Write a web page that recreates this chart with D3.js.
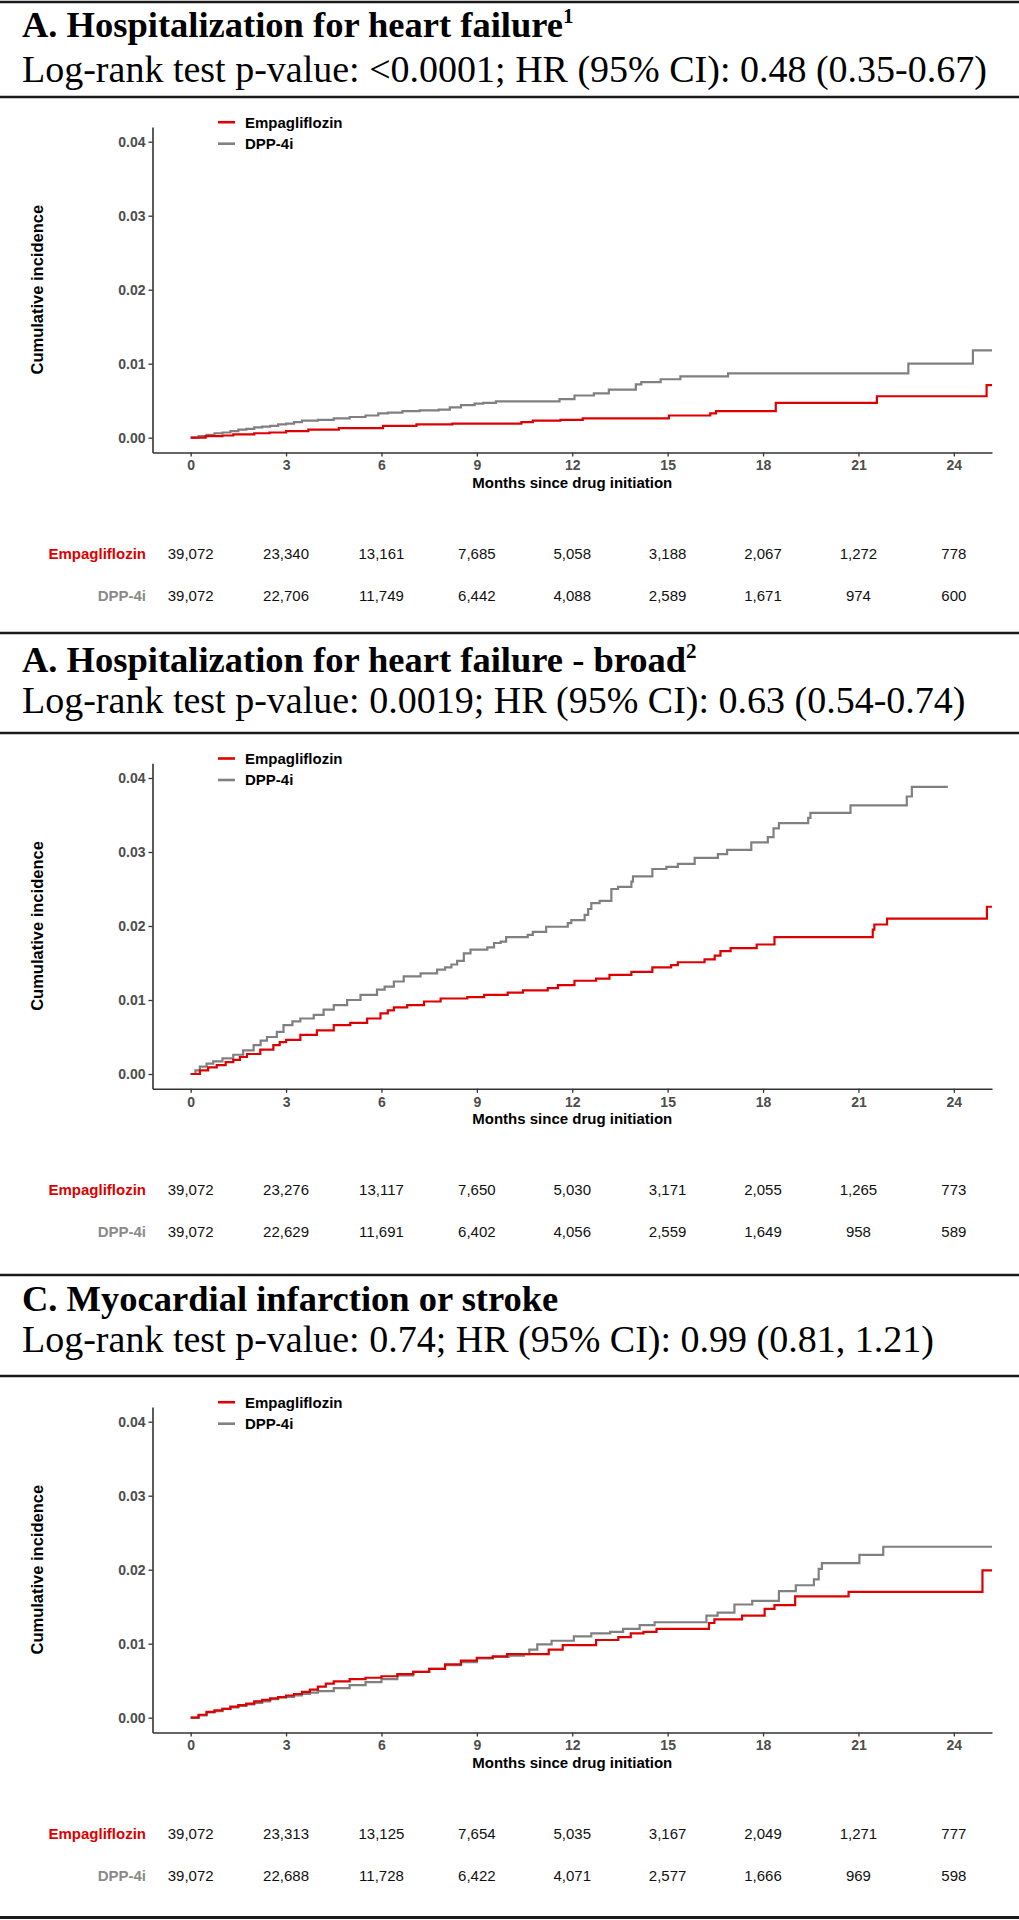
<!DOCTYPE html>
<html>
<head>
<meta charset="utf-8">
<script src="https://cdn.jsdelivr.net/npm/d3@7"></script>
<style>
  html, body { margin: 0; padding: 0; background: #fff; }
  svg { display: block; }
</style>
</head>
<body>
<svg id="chart" width="1019" height="1920"></svg>
<script>
// ---------------- DATA ----------------
const seriesNames = ["Empagliflozin", "DPP-4i"];
const xTicks = [0, 3, 6, 9, 12, 15, 18, 21, 24];
const yTicks = [0.00, 0.01, 0.02, 0.03, 0.04];
const riskMonths = [0, 3, 6, 9, 12, 15, 18, 21, 24];

const titles = [
  "A. Hospitalization for heart failure",
  "A. Hospitalization for heart failure - broad",
  "C. Myocardial infarction or stroke"
];
const titleSup = ["1", "2", ""];
const subtitles = [
  "Log-rank test p-value: <0.0001; HR (95% CI): 0.48 (0.35-0.67)",
  "Log-rank test p-value: 0.0019; HR (95% CI): 0.63 (0.54-0.74)",
  "Log-rank test p-value: 0.74; HR (95% CI): 0.99 (0.81, 1.21)"
];

// [month, cumulative incidence]
const hfEmpa = [[0,0],[0.47,0.0002],[1.0,0.0003],[1.34,0.00045],[2.0,0.0006],[2.48,0.0007],[3.0,0.0009],[3.7,0.0011],[4.66,0.0013],[6.05,0.0016],[7.1,0.0018],[8.23,0.0019],[10.4,0.0021],[10.76,0.0023],[11.63,0.0024],[12.33,0.0026],[15.04,0.003],[16.34,0.0033],[16.52,0.0036],[18.4,0.0047],[21.58,0.0056],[25.03,0.0071],[25.2,0.0071]];
const hfDpp = [[0,0],[0.25,0.0002],[0.5,0.0004],[0.75,0.0006],[1,0.0007],[1.25,0.0009],[1.5,0.0011],[1.75,0.0012],[2,0.0014],[2.25,0.0015],[2.5,0.0016],[2.75,0.0018],[3,0.0019],[3.25,0.0021],[3.5,0.0023],[4,0.0024],[4.5,0.0026],[5,0.0028],[5.5,0.003],[5.9,0.0033],[6.2,0.0034],[6.66,0.0036],[7.2,0.0037],[7.8,0.0038],[8.15,0.0041],[8.5,0.0044],[8.93,0.0046],[9.2,0.0047],[9.6,0.0049],[11.6,0.0052],[12.07,0.0057],[12.68,0.006],[13.15,0.0065],[14.0,0.0072],[14.17,0.0075],[14.78,0.0079],[15.4,0.0083],[16.9,0.0087],[22.57,0.01],[24.6,0.0118],[25.2,0.0118]];

const hfBroadEmpa = [[0,0],[0.29,0.0005],[0.55,0.0009],[0.82,0.0012],[1.1,0.0016],[1.34,0.0019],[1.55,0.0023],[1.77,0.0027],[2.19,0.0033],[2.6,0.0039],[2.8,0.0043],[3.0,0.0046],[3.45,0.0053],[3.97,0.0059],[4.5,0.0066],[5.02,0.0069],[5.55,0.0075],[5.97,0.0082],[6.2,0.0086],[6.39,0.009],[6.81,0.0093],[7.34,0.0098],[7.86,0.0102],[8.7,0.0104],[9.23,0.0107],[9.97,0.011],[10.45,0.0113],[11.23,0.0116],[11.55,0.012],[12.07,0.0126],[12.75,0.0129],[13.17,0.0134],[13.86,0.0138],[14.52,0.0144],[15.11,0.0147],[15.32,0.0151],[16.16,0.0155],[16.48,0.016],[16.66,0.0166],[16.98,0.017],[17.8,0.0175],[18.36,0.0185],[21.45,0.0195],[21.5,0.0202],[21.9,0.021],[25.04,0.0226],[25.2,0.0226]];
const hfBroadDpp = [[0,0],[0.15,0.0005],[0.29,0.001],[0.5,0.0014],[0.71,0.0017],[1.0,0.0021],[1.34,0.0026],[1.65,0.0032],[1.98,0.0039],[2.2,0.0045],[2.4,0.005],[2.71,0.0057],[2.92,0.0066],[3.2,0.0071],[3.45,0.0075],[3.87,0.008],[4.18,0.0087],[4.5,0.0093],[4.92,0.01],[5.34,0.0107],[5.86,0.0114],[6.1,0.0118],[6.39,0.0125],[6.7,0.0132],[7.23,0.0136],[7.75,0.0141],[8.0,0.0144],[8.2,0.0148],[8.38,0.0153],[8.59,0.0163],[8.8,0.0168],[9.33,0.0171],[9.54,0.0177],[9.75,0.0179],[9.92,0.0185],[10.6,0.0188],[10.76,0.0192],[11.18,0.0199],[11.86,0.0204],[11.97,0.0208],[12.39,0.0215],[12.5,0.0223],[12.6,0.0231],[12.86,0.0234],[13.23,0.025],[13.44,0.0253],[13.86,0.026],[13.91,0.0267],[14.52,0.0277],[14.96,0.028],[15.32,0.0284],[15.85,0.0292],[16.58,0.0297],[16.87,0.0303],[17.63,0.0313],[18.15,0.032],[18.33,0.0332],[18.5,0.0339],[19.42,0.0346],[19.49,0.0353],[20.75,0.0363],[22.52,0.0375],[22.68,0.0388],[23.81,0.0388]];

const miEmpa = [[0,0],[0.25,0.0004],[0.5,0.0008],[0.75,0.001],[1,0.0012],[1.25,0.0015],[1.5,0.0017],[1.75,0.0019],[2,0.0022],[2.25,0.0024],[2.5,0.0026],[2.75,0.0028],[3,0.003],[3.25,0.0032],[3.5,0.0035],[3.75,0.0038],[4,0.0042],[4.25,0.0046],[4.5,0.0049],[5,0.0052],[5.5,0.0054],[6,0.0056],[6.5,0.0059],[7,0.0062],[7.5,0.0066],[8,0.0072],[8.5,0.0077],[9,0.0081],[9.5,0.0083],[9.95,0.0086],[11.26,0.0092],[11.7,0.0098],[12.75,0.0105],[13.45,0.0109],[13.84,0.0114],[14.24,0.0116],[14.65,0.012],[16.3,0.0128],[16.47,0.0133],[17.34,0.0138],[18.05,0.0147],[18.36,0.0152],[19.01,0.0164],[20.69,0.017],[24.9,0.0199],[25.2,0.0199]];
const miDpp = [[0,0],[0.25,0.0003],[0.5,0.0007],[0.75,0.0009],[1,0.0012],[1.25,0.0014],[1.5,0.0016],[1.75,0.0018],[2,0.002],[2.25,0.0022],[2.5,0.0025],[2.75,0.0027],[3,0.0028],[3.25,0.003],[3.5,0.0032],[3.75,0.0034],[4,0.0036],[4.5,0.004],[5,0.0044],[5.5,0.0048],[6,0.0052],[6.5,0.0057],[7,0.0062],[7.5,0.0066],[8,0.0071],[8.5,0.0075],[9,0.008],[9.5,0.0082],[10,0.0084],[10.48,0.0086],[10.65,0.0092],[10.9,0.0099],[11.35,0.0104],[12.05,0.011],[12.6,0.0114],[13.19,0.0116],[13.6,0.012],[14.12,0.0125],[14.59,0.0129],[16.22,0.0138],[16.57,0.0142],[17.1,0.0153],[17.66,0.0158],[18.5,0.0171],[19.03,0.0179],[19.6,0.0187],[19.75,0.0201],[19.85,0.0209],[21.03,0.022],[21.78,0.0231],[25.2,0.0231]];

const hfRiskEmpa = [39072, 23340, 13161, 7685, 5058, 3188, 2067, 1272, 778];
const hfRiskDpp  = [39072, 22706, 11749, 6442, 4088, 2589, 1671, 974, 600];
const hfBroadRiskEmpa = [39072, 23276, 13117, 7650, 5030, 3171, 2055, 1265, 773];
const hfBroadRiskDpp  = [39072, 22629, 11691, 6402, 4056, 2559, 1649, 958, 589];
const miRiskEmpa = [39072, 23313, 13125, 7654, 5035, 3167, 2049, 1271, 777];
const miRiskDpp  = [39072, 22688, 11728, 6422, 4071, 2577, 1666, 969, 598];

// ---------------- LAYOUT ----------------
const colors = { empa: "#dd0000", dpp: "#808080" };
const sans = "'Liberation Sans', Arial, sans-serif";
const serif = "'Liberation Serif', 'Times New Roman', serif";

const panels = [
  { y0: 437.7, top: 2,    titleY: 37,   subY: 82,   hline: 97,   empa: hfEmpa, dpp: hfDpp, riskE: hfRiskEmpa, riskD: hfRiskDpp },
  { y0: 1074,  top: 633,  titleY: 672,  subY: 713,  hline: 733,  empa: hfBroadEmpa, dpp: hfBroadDpp, riskE: hfBroadRiskEmpa, riskD: hfBroadRiskDpp },
  { y0: 1717.7,top: 1275, titleY: 1311, subY: 1352, hline: 1376, empa: miEmpa, dpp: miDpp, riskE: miRiskEmpa, riskD: miRiskDpp }
];

const svg = d3.select("#chart");
const fmt = d3.format(",");
const x = d3.scaleLinear().domain([-1.2, 25.2]).range([152.5, 992]);
const pxPerUnit = 7400;

function hline(y, w) {
  svg.append("line").attr("x1", 0).attr("x2", 1019).attr("y1", y).attr("y2", y)
    .attr("stroke", "#1a1a1a").attr("stroke-width", w || 2.5);
}

panels.forEach((p, i) => {
  // header
  hline(p.top);
  const t = svg.append("text").attr("x", 22).attr("y", p.titleY)
    .attr("font-family", serif).attr("font-weight", "bold").attr("font-size", 36.5)
    .attr("fill", "#000").text(titles[i]);
  if (titleSup[i]) {
    t.append("tspan").attr("font-size", 21).attr("dy", -14).text(titleSup[i]);
  }
  svg.append("text").attr("x", 22).attr("y", p.subY)
    .attr("font-family", serif).attr("font-size", 38).attr("fill", "#000")
    .text(subtitles[i]);
  hline(p.hline);

  const y = d3.scaleLinear().domain([-0.002, 0.042])
    .range([p.y0 + 0.002 * pxPerUnit, p.y0 - 0.042 * pxPerUnit]);

  const g = svg.append("g");

  // axes
  const yAxis = d3.axisLeft(y).tickValues(yTicks).tickFormat(d3.format(".2f")).tickSize(4).tickSizeOuter(0).tickPadding(3);
  const xAxis = d3.axisBottom(x).tickValues(xTicks).tickSize(4).tickSizeOuter(0).tickPadding(4);
  const ya = g.append("g").attr("transform", `translate(${x.range()[0]},0)`).call(yAxis);
  const xa = g.append("g").attr("transform", `translate(0,${y.range()[0]})`).call(xAxis);
  [ya, xa].forEach(a => {
    a.select(".domain").attr("stroke", "#333").attr("stroke-width", 1.6);
    a.selectAll(".tick line").attr("stroke", "#333").attr("stroke-width", 1.3);
    a.selectAll(".tick text").attr("font-family", sans).attr("font-weight", "bold")
      .attr("font-size", 14).attr("fill", "#4d4d4d");
  });

  // axis titles
  g.append("text").attr("transform", `translate(43,${(y.range()[0] + y.range()[1]) / 2}) rotate(-90)`)
    .attr("text-anchor", "middle").attr("font-family", sans).attr("font-weight", "bold")
    .attr("font-size", 16.5).attr("fill", "#000").text("Cumulative incidence");
  g.append("text").attr("x", x(12)).attr("y", p.y0 + 50)
    .attr("text-anchor", "middle").attr("font-family", sans).attr("font-weight", "bold")
    .attr("font-size", 15).attr("fill", "#000").text("Months since drug initiation");

  // curves
  const line = d3.line().x(d => x(d[0])).y(d => y(d[1])).curve(d3.curveStepAfter);
  g.append("path").datum(p.dpp).attr("d", line).attr("fill", "none")
    .attr("stroke", colors.dpp).attr("stroke-width", 2.2);
  g.append("path").datum(p.empa).attr("d", line).attr("fill", "none")
    .attr("stroke", colors.empa).attr("stroke-width", 2.2);

  // legend
  const legendRows = [
    { name: seriesNames[0], color: colors.empa, yy: p.y0 - 315.5 },
    { name: seriesNames[1], color: colors.dpp, yy: p.y0 - 294 }
  ];
  legendRows.forEach(r => {
    g.append("line").attr("x1", 218).attr("x2", 235).attr("y1", r.yy).attr("y2", r.yy)
      .attr("stroke", r.color).attr("stroke-width", 2.6);
    g.append("text").attr("x", 245).attr("y", r.yy).attr("dy", "0.36em")
      .attr("font-family", sans).attr("font-weight", "bold").attr("font-size", 15)
      .attr("fill", "#000").text(r.name);
  });

  // risk table
  const rows = [
    { name: seriesNames[0], color: colors.empa, vals: p.riskE, yy: p.y0 + 115.5 },
    { name: seriesNames[1], color: "#8a8a8a", vals: p.riskD, yy: p.y0 + 158 }
  ];
  rows.forEach(r => {
    g.append("text").attr("x", 146).attr("y", r.yy).attr("dy", "0.36em")
      .attr("text-anchor", "end").attr("font-family", sans).attr("font-weight", "bold")
      .attr("font-size", 15).attr("fill", r.color).text(r.name);
    g.selectAll(null).data(riskMonths).enter().append("text")
      .attr("x", d => x(d)).attr("y", r.yy).attr("dy", "0.36em")
      .attr("text-anchor", "middle").attr("font-family", sans)
      .attr("font-size", 15).attr("fill", "#111")
      .text((d, j) => fmt(r.vals[j]));
  });
});

hline(1917.5, 3);
</script>
</body>
</html>
